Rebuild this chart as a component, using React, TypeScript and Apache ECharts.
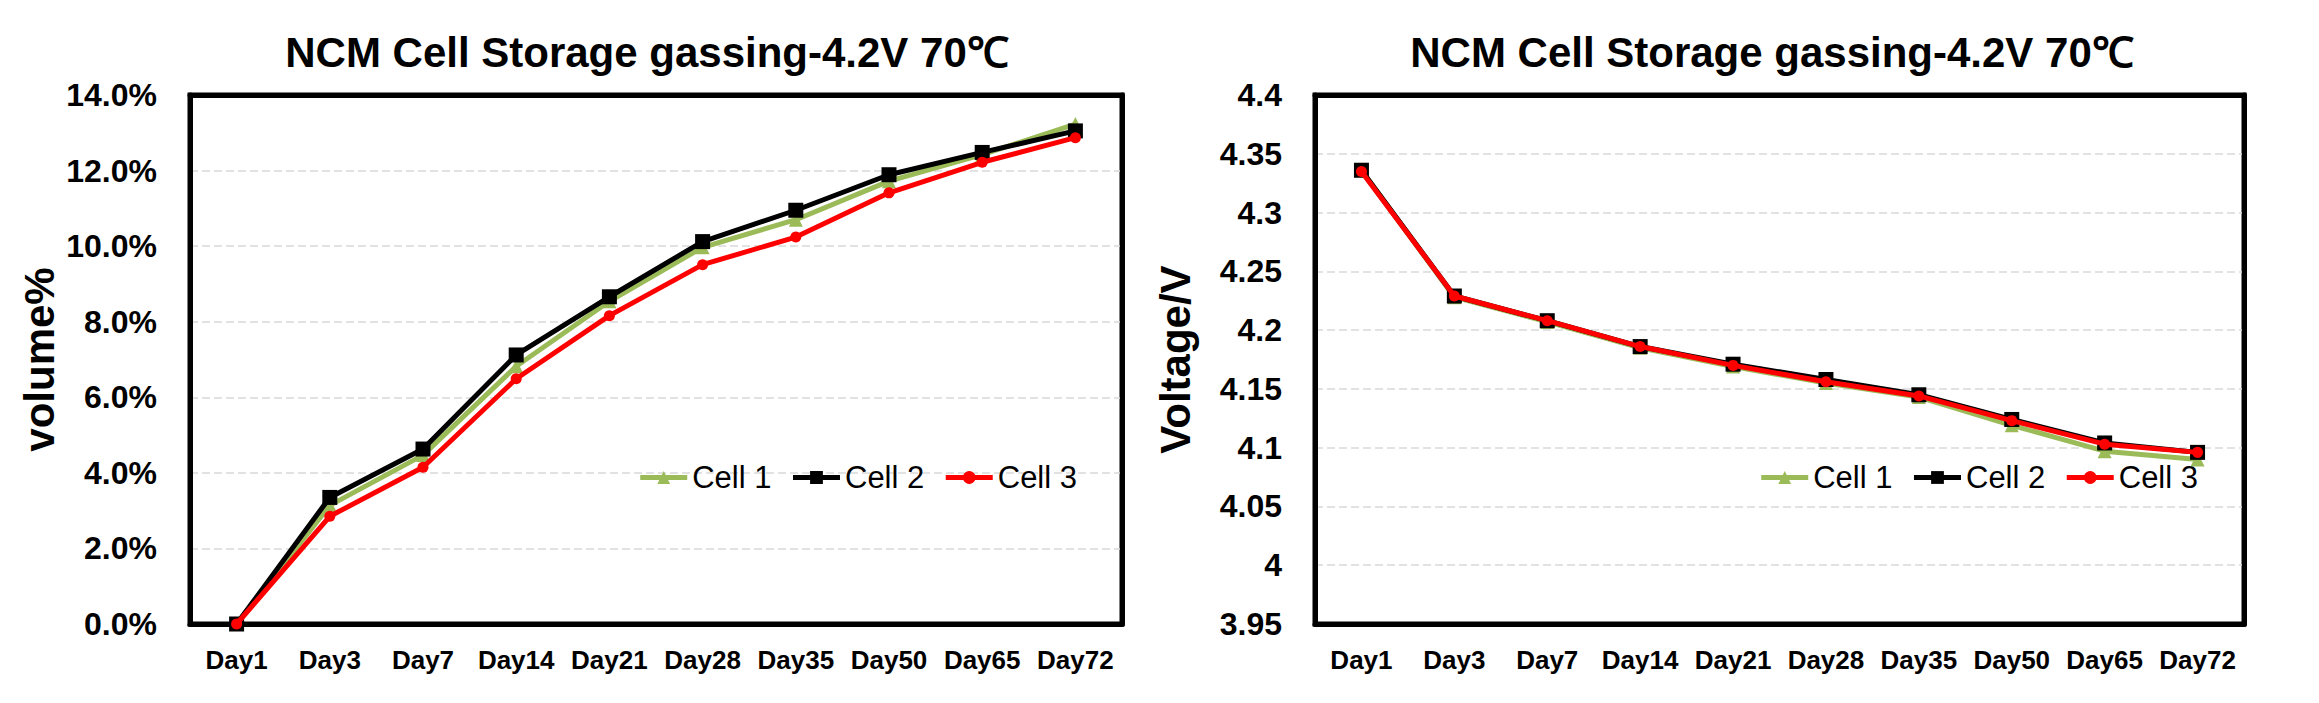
import React, { useEffect, useRef } from "react";
import * as echarts from "echarts";

const categories = ["Day1", "Day3", "Day7", "Day14", "Day21", "Day28", "Day35", "Day50", "Day65", "Day72"];
const seriesNames = ["Cell 1", "Cell 2", "Cell 3"];

// volume % (left chart)
const gasCell1 = [0, 3.14, 4.47, 6.82, 8.54, 9.97, 10.7, 11.72, 12.42, 13.23];
const gasCell2 = [0, 3.35, 4.63, 7.12, 8.66, 10.12, 10.95, 11.89, 12.48, 13.05];
const gasCell3 = [0, 2.85, 4.15, 6.49, 8.16, 9.51, 10.24, 11.41, 12.22, 12.87];

// voltage V (right chart)
const voltCell1 = [4.336, 4.228, 4.207, 4.185, 4.169, 4.155, 4.143, 4.119, 4.097, 4.09];
const voltCell2 = [4.336, 4.229, 4.208, 4.186, 4.171, 4.158, 4.145, 4.124, 4.104, 4.096];
const voltCell3 = [4.335, 4.229, 4.208, 4.186, 4.17, 4.156, 4.144, 4.123, 4.103, 4.096];

const titleText = "NCM Cell Storage gassing-4.2V 70℃";
const FONT = "'Liberation Sans', Arial, sans-serif";

const styles = [
  { color: "#9BBB59", symbol: "triangle", size: 14 },
  { color: "#000000", symbol: "rect", size: 15 },
  { color: "#FF0000", symbol: "circle", size: 11 },
];

function makeSeries(data: number[][], axisIndex: number) {
  return data.map((d, i) => ({
    name: seriesNames[i],
    type: "line",
    xAxisIndex: axisIndex,
    yAxisIndex: axisIndex,
    data: d,
    symbol: styles[i].symbol,
    symbolSize: styles[i].size,
    showSymbol: true,
    lineStyle: { color: styles[i].color, width: 5 },
    itemStyle: { color: styles[i].color },
    z: 3 + i,
  }));
}

export default function App() {
  const ref = useRef<HTMLDivElement>(null);
  useEffect(() => {
    if (!ref.current) return;
    const chart = echarts.init(ref.current, undefined, { renderer: "svg" });
    const grids = [
      { left: 190, top: 95, width: 932, height: 529 },
      { left: 1315, top: 95, width: 929, height: 529 },
    ];
    const frameLine = { show: true, onZero: false, lineStyle: { color: "#000", width: 5 } };
    const xAxis: any[] = [];
    grids.forEach((_, i) => {
      xAxis.push({
        type: "category",
        gridIndex: i,
        data: categories,
        boundaryGap: true,
        position: "bottom",
        axisLine: frameLine,
        axisTick: { show: false },
        axisLabel: {
          interval: 0,
          margin: 23,
          color: "#000",
          fontSize: 26,
          fontWeight: "bold",
          fontFamily: FONT,
        },
      });
    });
    grids.forEach((_, i) => {
      xAxis.push({
        type: "category",
        gridIndex: i,
        data: categories,
        position: "top",
        axisLine: frameLine,
        axisTick: { show: false },
        axisLabel: { show: false },
        splitLine: { show: false },
      });
    });
    const splitLine = { show: true, lineStyle: { color: "#d9d9d9", width: 1.5, type: [8, 4] } };
    const yLabelBase = { margin: 33, color: "#000", fontSize: 32, fontWeight: "bold", fontFamily: FONT };
    const nameStyle = {
      fontSize: 42,
      fontWeight: "bold",
      color: "#000",
      fontFamily: FONT,
      verticalAlign: "middle",
    };
    const yAxis: any[] = [
      {
        type: "value",
        gridIndex: 0,
        min: 0,
        max: 14,
        interval: 2,
        name: "volume%",
        nameLocation: "middle",
        nameGap: 151,
        nameTextStyle: nameStyle,
        position: "left",
        axisLine: frameLine,
        axisTick: { show: false },
        splitLine,
        axisLabel: { ...yLabelBase, formatter: (v: number) => v.toFixed(1) + "%" },
      },
      {
        type: "value",
        gridIndex: 1,
        min: 3.95,
        max: 4.4,
        interval: 0.05,
        name: "Voltage/V",
        nameLocation: "middle",
        nameGap: 140,
        nameTextStyle: nameStyle,
        position: "left",
        axisLine: frameLine,
        axisTick: { show: false },
        splitLine,
        axisLabel: { ...yLabelBase, formatter: (v: number) => String(parseFloat(v.toFixed(2))) },
      },
      {
        type: "value",
        gridIndex: 0,
        min: 0,
        max: 14,
        interval: 2,
        position: "right",
        axisLine: frameLine,
        axisTick: { show: false },
        axisLabel: { show: false },
        splitLine: { show: false },
      },
      {
        type: "value",
        gridIndex: 1,
        min: 3.95,
        max: 4.4,
        interval: 0.05,
        position: "right",
        axisLine: frameLine,
        axisTick: { show: false },
        axisLabel: { show: false },
        splitLine: { show: false },
      },
    ];
    const legendBase = {
      data: seriesNames,
      orient: "horizontal",
      top: 462,
      padding: 0,
      itemWidth: 47,
      itemHeight: 16,
      itemGap: 19,
      lineStyle: { width: 5 },
      textStyle: { fontSize: 31, color: "#000", fontFamily: FONT },
    };
    chart.setOption({
      animation: false,
      backgroundColor: "#ffffff",
      textStyle: { fontFamily: FONT },
      title: [
        {
          text: titleText,
          left: 647,
          top: 31,
          padding: 0,
          textAlign: "center",
          textStyle: { fontSize: 42, fontWeight: "bold", color: "#000", fontFamily: FONT },
        },
        {
          text: titleText,
          left: 1772,
          top: 31,
          padding: 0,
          textAlign: "center",
          textStyle: { fontSize: 42, fontWeight: "bold", color: "#000", fontFamily: FONT },
        },
      ],
      legend: [
        { ...legendBase, right: 1242 },
        { ...legendBase, right: 121 },
      ],
      grid: grids.map((g) => ({
        ...g,
        show: true,
        borderColor: "#000",
        borderWidth: 5,
        backgroundColor: "#fff",
        containLabel: false,
      })),
      xAxis,
      yAxis,
      series: [
        ...makeSeries([gasCell1, gasCell2, gasCell3], 0),
        ...makeSeries([voltCell1, voltCell2, voltCell3], 1),
      ],
    });
    return () => chart.dispose();
  }, []);
  return (
    <div
      ref={ref}
      style={{ position: "absolute", left: 0, top: 0, width: 2319, height: 703, background: "#fff" }}
    />
  );
}
